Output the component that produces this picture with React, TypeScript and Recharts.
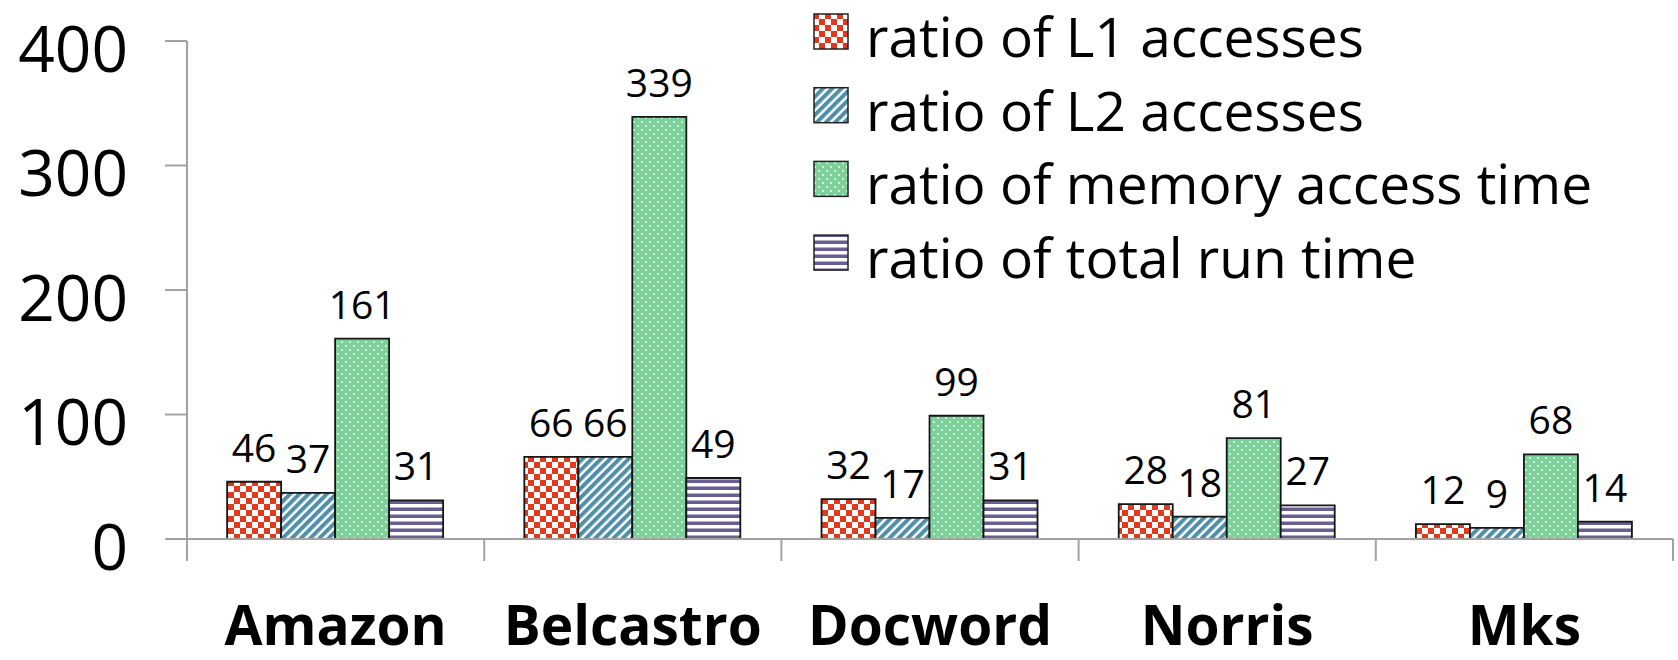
import { BarChart, Bar, XAxis, YAxis, Legend, LabelList } from 'recharts'

// values (ratios per trace)
const categories = ['Amazon', 'Belcastro', 'Docword', 'Norris', 'Mks']
const l1Ratio = [46, 66, 32, 28, 12]
const l2Ratio = [37, 66, 17, 18, 9]
const memTimeRatio = [161, 339, 99, 81, 68]
const runTimeRatio = [31, 49, 31, 27, 14]
const yTicks = [0, 100, 200, 300, 400]
const seriesNames = [
  'ratio of L1 accesses',
  'ratio of L2 accesses',
  'ratio of memory access time',
  'ratio of total run time',
]

const data = categories.map((name, i) => ({
  name,
  l1: l1Ratio[i],
  l2: l2Ratio[i],
  mem: memTimeRatio[i],
  run: runTimeRatio[i],
}))

const CHART_W = 1678
const CHART_H = 660
const MARGIN = { top: 41, right: 5, bottom: 0, left: 0 }
const Y_W = 187
const X_H = 121
const AXIS_GREY = '#a2a2a2'
const FONT = '"Open Sans", sans-serif'
const PATTERN_IDS = ['patL1', 'patL2', 'patMem', 'patRun']
const KEYS = ['l1', 'l2', 'mem', 'run']

const LABEL_STYLE = { fontSize: 39, fill: '#000', fontFamily: FONT }
const Y_TICK = { fontSize: 64, fill: '#000', fontFamily: FONT, dy: 8 }

function CategoryTick(props: any) {
  const { x, y, payload, index } = props
  const half = payload?.offset ?? (CHART_W - Y_W - MARGIN.right) / categories.length / 2
  const left = x - half
  const right = x + half
  return (
    <g>
      <line x1={left} y1={y} x2={left} y2={y + 22} stroke={AXIS_GREY} strokeWidth={2} />
      {index === categories.length - 1 && (
        <line x1={right} y1={y} x2={right} y2={y + 22} stroke={AXIS_GREY} strokeWidth={2} />
      )}
      <text
        x={x}
        y={y + 106}
        textAnchor="middle"
        fontFamily={FONT}
        fontWeight={700}
        fontSize={55}
        fill="#000"
      >
        {payload.value}
      </text>
    </g>
  )
}

function LegendBox() {
  const rowH = 73.7
  return (
    <svg width={820} height={290} style={{ display: 'block', overflow: 'visible' }}>
      {seriesNames.map((name, i) => (
        <g key={name}>
          <rect
            x={1}
            y={1 + i * rowH}
            width={34}
            height={35}
            fill={`url(#${PATTERN_IDS[i]})`}
            stroke="#222"
            strokeWidth={1.5}
          />
          <text x={53} y={44 + i * rowH} fontFamily={FONT} fontSize={55} fill="#000">
            {name}
          </text>
        </g>
      ))}
    </svg>
  )
}

export default function App() {
  return (
    <div style={{ position: 'absolute', left: 0, top: 0, fontFamily: FONT }}>
      <BarChart
        width={CHART_W}
        height={CHART_H}
        data={data}
        margin={MARGIN}
        barCategoryGap="13.5%"
        barGap={0}
      >
        <defs>
          <pattern id="patL1" width={12} height={12} patternUnits="userSpaceOnUse">
            <rect width={12} height={12} fill="#fff" />
            <rect width={6} height={6} fill="#e2391c" />
            <rect x={6} y={6} width={6} height={6} fill="#e2391c" />
          </pattern>
          <pattern
            id="patL2"
            width={6.5}
            height={10}
            patternUnits="userSpaceOnUse"
            patternTransform="rotate(45)"
          >
            <rect width={6.5} height={10} fill="#fff" />
            <rect width={4} height={10} fill="#4f8fa8" />
          </pattern>
          <pattern id="patMem" width={8} height={8} patternUnits="userSpaceOnUse">
            <rect width={8} height={8} fill="#7ed09b" />
            <circle cx={2} cy={2} r={1} fill="#e8f8ee" />
            <circle cx={6} cy={6} r={1} fill="#e8f8ee" />
          </pattern>
          <pattern id="patRun" width={10} height={7} patternUnits="userSpaceOnUse">
            <rect width={10} height={7} fill="#fff" />
            <rect y={3.5} width={10} height={3.5} fill="#695e94" />
          </pattern>
        </defs>
        <XAxis
          dataKey="name"
          height={X_H}
          axisLine={{ stroke: AXIS_GREY, strokeWidth: 2 }}
          tickLine={false}
          tickSize={0}
          tickMargin={0}
          interval={0}
          tick={<CategoryTick />}
        />
        <YAxis
          width={Y_W}
          domain={[0, 400]}
          ticks={yTicks}
          interval={0}
          axisLine={{ stroke: AXIS_GREY, strokeWidth: 2 }}
          tickLine={{ stroke: AXIS_GREY, strokeWidth: 2 }}
          tickSize={22}
          tickMargin={37}
          tick={Y_TICK}
        />
        <Legend
          layout="horizontal"
          verticalAlign="middle"
          align="center"
          wrapperStyle={{ top: 13, left: 813, width: 830, height: 290 }}
          content={<LegendBox />}
        />
        {KEYS.map((k, i) => (
          <Bar
            key={k}
            dataKey={k}
            name={seriesNames[i]}
            fill={`url(#${PATTERN_IDS[i]})`}
            stroke="#161616"
            strokeWidth={1.8}
            isAnimationActive={false}
          >
            <LabelList dataKey={k} position="top" offset={20} style={LABEL_STYLE} />
          </Bar>
        ))}
      </BarChart>
    </div>
  )
}
